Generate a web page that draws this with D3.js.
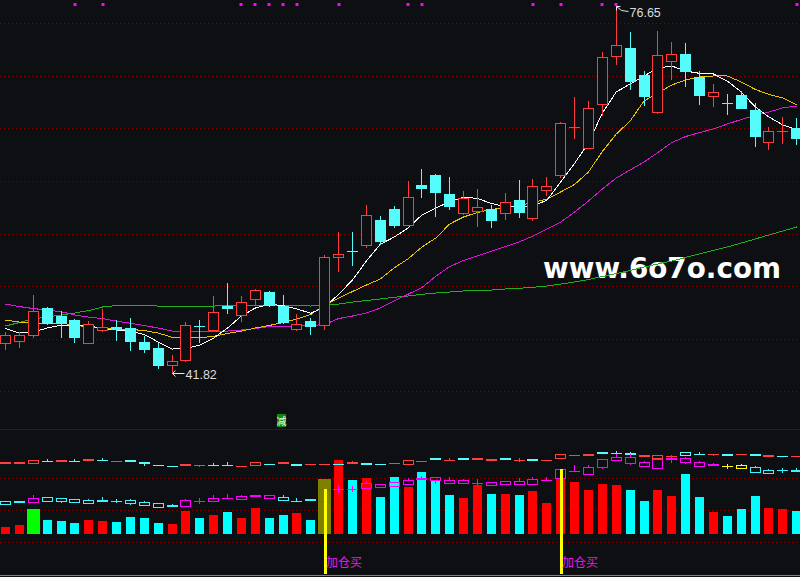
<!DOCTYPE html>
<html><head><meta charset="utf-8">
<script src="https://cdn.jsdelivr.net/npm/d3@7"></script>
<style>html,body{margin:0;padding:0;background:#0e0f13;overflow:hidden}</style>
</head><body><svg id="c" width="800" height="577"></svg>
<script>
// ---------- DATA ----------
const days = d3.range(58);
const open  = [44.62,44.75,45.33,47.92,47.16,46.78,44.62,45.83,46.11,46.02,44.69,44.12,42.50,42.98,46.21,45.83,48.11,47.26,48.78,49.44,48.11,45.90,46.69,46.28,52.77,53.34,53.94,56.29,57.34,55.84,59.65,60.57,58.76,56.96,57.18,57.34,56.99,58.19,56.51,59.17,60.60,65.04,63.17,67.35,71.92,72.65,70.08,66.59,71.44,72.08,69.89,68.11,67.42,68.18,66.75,63.74,64.66,65.04];
const high  = [45.64,45.64,49.16,48.02,47.64,46.85,46.69,47.83,46.78,46.97,45.26,44.59,43.45,46.59,46.78,49.06,50.30,49.06,49.70,49.50,49.16,47.35,46.97,52.93,55.15,55.15,57.72,56.67,57.62,59.97,61.14,60.67,60.38,59.05,59.24,57.72,58.86,60.10,60.19,60.38,65.61,67.99,67.61,72.27,76.65,74.17,70.46,74.27,73.22,73.13,70.46,69.23,68.28,68.56,67.42,65.14,66.09,65.99];
const low   = [44.05,44.24,45.19,46.40,45.16,44.69,44.55,45.78,44.88,43.93,43.74,42.22,41.82,42.90,44.69,45.80,47.45,46.69,48.21,48.10,46.50,45.80,45.42,45.90,51.41,52.01,53.75,54.01,55.63,55.80,58.48,56.67,57.34,56.86,55.72,55.63,56.39,56.58,56.32,58.67,60.41,64.09,63.17,66.28,71.16,68.75,67.23,66.50,69.70,69.04,67.32,67.13,66.37,66.90,63.33,63.07,63.64,63.52];
const close = [45.33,45.33,47.64,46.50,46.50,45.16,46.40,46.11,45.92,44.78,44.02,42.50,42.88,46.31,46.11,47.54,47.92,48.49,49.63,48.21,46.59,46.40,46.21,52.77,53.03,53.25,56.77,54.29,55.82,58.48,59.36,58.95,57.62,58.38,57.53,56.29,58.00,57.05,59.53,59.53,65.52,65.14,66.94,71.79,72.94,69.51,68.09,71.98,72.08,70.46,68.18,68.47,67.33,66.94,64.28,64.76,64.76,64.09];

const ma5  = [45.97,45.54,45.64,46.02,46.28,46.31,46.26,45.92,45.83,45.73,45.40,44.69,44.02,44.07,44.40,45.07,46.02,47.16,47.92,48.26,48.16,47.83,47.42,48.05,49.21,50.59,52.39,53.98,54.67,55.53,56.77,57.43,58.03,58.48,58.34,57.86,57.58,57.50,57.67,58.15,59.91,61.68,63.62,66.47,68.47,69.23,69.99,70.75,70.94,70.46,70.24,70.18,69.51,68.47,67.07,66.09,65.33,64.90];
const ma10 = [46.78,46.59,46.47,46.47,46.47,46.31,46.10,45.97,45.92,45.88,45.78,45.54,45.14,45.07,45.07,45.24,45.50,45.73,46.02,46.26,46.54,46.88,47.32,48.21,48.87,49.49,50.11,50.68,51.73,52.60,53.72,54.58,55.91,56.58,57.01,57.29,57.48,57.67,57.96,58.29,58.96,59.67,60.86,62.81,64.47,65.71,67.61,68.37,69.13,69.61,69.89,69.99,69.99,69.42,68.72,68.23,67.90,67.23];
const ma20 = [48.30,48.06,47.87,47.73,47.57,47.26,47.05,46.92,46.67,46.47,46.25,46.02,45.73,45.73,45.73,45.73,45.73,45.83,45.97,46.16,46.12,46.19,46.26,46.35,46.92,47.16,47.45,47.92,48.59,49.23,49.87,50.94,51.87,52.44,52.87,53.32,53.75,54.20,54.77,55.44,56.10,57.05,58.10,59.24,60.29,61.05,61.81,62.71,63.66,64.23,64.61,64.95,65.42,65.85,66.23,66.56,66.96,67.13];
const ma60 = [46.21,46.54,46.88,47.07,47.26,47.45,47.68,48.02,48.15,48.16,48.13,48.11,48.11,48.11,48.11,48.11,48.13,48.16,48.18,48.18,48.16,48.13,48.11,48.21,48.30,48.49,48.64,48.78,48.94,49.06,49.23,49.35,49.44,49.54,49.59,49.63,49.73,49.80,49.89,50.01,50.20,50.40,50.63,50.92,51.20,51.49,51.82,52.11,52.39,52.73,53.06,53.39,53.72,54.10,54.48,54.87,55.25,55.63];

const priceGrid = [75,70,65,60,55,50,45,40];
const topMarks = [5,7,17,18,19,20,21,24,29,30,38,40,43,44,57];
const reduceMark = 20;
const buySignals = [23,40];
const buyLabel = "加仓买";
const reduceLabel = "减";
const watermark = "www.6o7o.com";

// bottom panel: volume bars
const volume = [7,9,25,14,13,11,14,13,12,17,16,11,10,23,16,19,22,16,26,16,19,21,14,55,74,54,56,37,57,47,62,54,39,36,49,40,40,39,43,31,55,52,44,50,49,44,33,44,38,60,37,22,18,25,38,26,25,23];
const volColor = "rrgcccrrccccrrcrcrrccrcorcrccrcccrrcrcrrrrrrrccrrccrcccrrc";
// upper mini-candle row
const aO = [72,72,71,73.5,74,73.5,75,74.5,73.5,74,72,69.5,68.5,70,69.5,69.5,69.5,68.5,69,70.5,72,70,70.5,70.5,70.5,72,71,70.5,71.5,70,73.5,76,74.5,76,76,75,76,74.5,75,74.5,76,79.5,80,82,81.5,81,79,76,78.5,79,80.5,80.5,80,80.5,80,79,78.5,78.5];
const aC = [70,70,74,73.5,72,73.5,73,74.5,73.5,72,70,69.5,68.5,68,69.5,69.5,69.5,68.5,72,70.5,70,68,70.5,70.5,70.5,70,69,70.5,71.5,74,73.5,74,74.5,74,74,73,74,74.5,73,74.5,80,79.5,78,80,81.5,79,77,79,78.5,82,80.5,80.5,78,80.5,78,77,78.5,78.5];
const aH = [72,72,74,75,74,75,75,76,73.5,74,72,69.5,68.5,70,69.5,71,72,68.5,72,70.5,72,70,70.5,70.5,70.5,73,71,70.5,71.5,74,73.5,76,76,76,76,75,76,76,75,74.5,80,79.5,80,82,83,82,79,79,78.5,82,82,80.5,80,80.5,80,79,78.5,78.5];
const aL = [70,70,71,73.5,72,73.5,73,74.5,73.5,72,69,69.5,68.5,68,68,69.5,69.5,68.5,69,70.5,70,68,70.5,70.5,70.5,70,69,70.5,71.5,70,73.5,74,74.5,74,74,73,74,73,73,74.5,76,79.5,78,80,80,79,77,76,78.5,79,80.5,79,78,80.5,78,77,78.5,78.5];
const aColor = "rrrcrcrcrccccrrccrrcrcrrcrccrrrcrcrrcrcrrrrcccrrrccrcrcrcr";
// lower mini-candle row
const bO = [30,33,32,33,33,32,31,34,33.5,31,29,27,29,28,33.5,33,36.5,35,39,36,34,33.5,35,33,45.5,45.5,46,47,48,50,56,54,51,51,51.5,49,50,50,50,54.5,56,63.5,60,67,74,71,68,66,76,72,68,70,68.5,66,62,61,64.5,64];
const bC = [33,31,36,37,36,35,34,32,33.5,34,32,31,27,34,33.5,36,36.5,38,37,39,37,33.5,33,45,45.5,45.5,51,50,52,54,54,57,54,54,51.5,52,53,53,55,54.5,65,63.5,67,75,77,77,72,75,74,76,72,68,68.5,69,67,64,64.5,62];
const bH = [33,33,39,37,36,35,35,37,35,35,33,31,30,35,36,39,40,39,39,39,39,36,35,45,49,48,53,50,52,56,58,57,57,55,55,52,53,56,57,57,65,69,69,75,80,80,73,75,79,77,73,71,70,70,68,65,66,66];
const bL = [30,31,32,33,32,32,31,32,32,30,29,27,27,28,31,33,36.5,35,37,36,34,33.5,33,33,42,43,46,47,48,50,54,51,51,51,49,49,50,50,50,54.5,56,63.5,60,66,74,70,68,66,72,71,68,68,66,66,62,61,62,62];
const bColor = "ccm" + "cccccccccc" + "mmmmmmm" + "ccc" + "m" + "mmmmmmmmmmmmmmmmmmmmmmmmmmmm" + "yy" + "cccc";

// ---------- DRAW ----------
const W = 800, H = 577, BG = "#0e0f13";
const svg = d3.select("#c");
svg.append("rect").attr("width", W).attr("height", H).attr("fill", BG);

const x = d3.scaleLinear().domain([0, days.length - 1]).range([5.5, 796.7]);
const y = d3.scaleLinear().domain([40, 75]).range([391.3, 23.3]);
const v = d3.scaleLinear().domain([0, 100]).range([534, 434]);
const px = p => Math.round(p);

const GRID = "#800000";
// main grid
svg.append("g").selectAll("line").data(priceGrid).join("line")
  .attr("x1", 0).attr("x2", W)
  .attr("y1", d => px(y(d)) + 0.5).attr("y2", d => px(y(d)) + 0.5)
  .attr("stroke", GRID).attr("stroke-dasharray", "1,3").attr("shape-rendering", "crispEdges");

// panel separator + bottom border
svg.append("line").attr("x1", 0).attr("x2", W).attr("y1", 429.5).attr("y2", 429.5).attr("stroke", "#6e0000");
svg.append("line").attr("x1", 0).attr("x2", W).attr("y1", 575.5).attr("y2", 575.5).attr("stroke", "#22c322");

// sub grid
const subGrid = [56, 24, -8];
svg.append("g").selectAll("line").data(subGrid).join("line")
  .attr("x1", 0).attr("x2", W)
  .attr("y1", d => px(v(d)) + 0.5).attr("y2", d => px(v(d)) + 0.5)
  .attr("stroke", GRID).attr("stroke-dasharray", "1,3").attr("shape-rendering", "crispEdges");

// top markers
svg.append("g").selectAll("rect").data(topMarks).join("rect")
  .attr("x", d => px(x(d)) - 1.5).attr("y", 3).attr("width", 3).attr("height", 3)
  .attr("fill", "#ff00ff");

// watermark
svg.append("text").attr("x", 543).attr("y", 278)
  .attr("font-family", "DejaVu Sans, sans-serif").attr("font-weight", "bold")
  .attr("font-size", 28).attr("fill", "#ffffff")
  .attr("textLength", 238).attr("lengthAdjust", "spacingAndGlyphs")
  .text(watermark);

// MA lines
const maLine = d3.line().x((d, i) => x(i)).y(d => y(d));
const maDefs = [[ma60, "#1fae1f"], [ma20, "#d81ad8"], [ma10, "#e8c400"], [ma5, "#ffffff"]];
maDefs.forEach(([arr, col]) => {
  svg.append("path").attr("d", maLine(arr)).attr("fill", "none")
    .attr("stroke", col).attr("stroke-width", 1).attr("shape-rendering", "crispEdges");
});

// candles
const UP = "#ff3b3b", DN = "#54fcfc";
const cg = svg.append("g").attr("shape-rendering", "crispEdges");
days.forEach(i => {
  const cx = x(i), x0 = px(cx - 5.5);
  const up = close[i] >= open[i];
  const col = up ? UP : DN;
  const yt = px(y(Math.max(open[i], close[i]))), yb = px(y(Math.min(open[i], close[i])));
  cg.append("line").attr("x1", x0 + 5.5).attr("x2", x0 + 5.5)
    .attr("y1", px(y(high[i]))).attr("y2", px(y(low[i])) + 1).attr("stroke", col);
  if (yb - yt <= 1) {
    cg.append("line").attr("x1", x0).attr("x2", x0 + 11)
      .attr("y1", yt + 0.5).attr("y2", yt + 0.5).attr("stroke", col);
  } else if (up) {
    cg.append("rect").attr("x", x0 + 0.5).attr("y", yt + 0.5).attr("width", 10).attr("height", yb - yt)
      .attr("fill", BG).attr("stroke", col);
  } else {
    cg.append("rect").attr("x", x0).attr("y", yt).attr("width", 11).attr("height", yb - yt + 1)
      .attr("fill", col);
  }
});

// high / low annotations
const hiIdx = d3.maxIndex(high), loIdx = d3.minIndex(low);
const hx = px(x(hiIdx)) + 0.5, hy = px(y(high[hiIdx])) + 0.5;
svg.append("path").attr("d", `M${hx},${hy} L${hx + 5},${hy + 4} L${hx + 12},${hy + 5} M${hx},${hy} l0,4 M${hx},${hy} l4,0`)
  .attr("fill", "none").attr("stroke", "#e8e8e8");
svg.append("text").attr("x", hx + 13).attr("y", hy + 10)
  .attr("font-family", "Liberation Sans, Arial, sans-serif").attr("font-size", 12.5).attr("fill", "#dcdcdc")
  .text(high[hiIdx].toFixed(2));
const lx = px(x(loIdx)) + 0.5, ly = px(y(low[loIdx])) + 1.5;
svg.append("path").attr("d", `M${lx},${ly} L${lx + 12},${ly} M${lx},${ly} l3,-3 M${lx},${ly} l3,3`)
  .attr("fill", "none").attr("stroke", "#e8e8e8");
svg.append("text").attr("x", lx + 13).attr("y", ly + 5)
  .attr("font-family", "Liberation Sans, Arial, sans-serif").attr("font-size", 12.5).attr("fill", "#dcdcdc")
  .text(low[loIdx].toFixed(2));

// reduce marker
const rx = px(x(reduceMark)) - 6;
svg.append("rect").attr("x", rx).attr("y", 414).attr("width", 9).attr("height", 13).attr("fill", "#0d8a0d");
svg.append("text").attr("x", rx + 4.5).attr("y", 425).attr("text-anchor", "middle")
  .attr("font-family", "Noto Sans CJK SC, sans-serif").attr("font-size", 10).attr("fill", "#e8ffe8")
  .text(reduceLabel);

// volume bars
const vcol = {r: "#ff0000", c: "#00ffff", g: "#00ff00", o: "#808000"};
svg.append("g").attr("shape-rendering", "crispEdges").selectAll("rect").data(volume).join("rect")
  .attr("x", (d, i) => { const w = "go".includes(volColor[i]) ? 13 : 9; return px(x(i) - w / 2); })
  .attr("width", (d, i) => "go".includes(volColor[i]) ? 13 : 9)
  .attr("y", d => px(v(d))).attr("height", d => px(v(0)) - px(v(d)))
  .attr("fill", (d, i) => vcol[volColor[i]]);

// mini candle rows
function miniRow(O, C, Hh, L, colors, palette) {
  const g = svg.append("g").attr("shape-rendering", "crispEdges");
  days.forEach(i => {
    const col = palette[colors[i]];
    const x0 = px(x(i) - 5.5);
    const yt = px(v(Math.max(O[i], C[i]))), yb = px(v(Math.min(O[i], C[i])));
    const yh = px(v(Hh[i])), yl = px(v(L[i]));
    if (yh < yt) g.append("line").attr("x1", x0 + 5.5).attr("x2", x0 + 5.5).attr("y1", yh).attr("y2", yt).attr("stroke", col);
    if (yl > yb) g.append("line").attr("x1", x0 + 5.5).attr("x2", x0 + 5.5).attr("y1", yb).attr("y2", yl + 1).attr("stroke", col);
    if (O[i] === C[i]) {
      g.append("line").attr("x1", x0).attr("x2", x0 + 11).attr("y1", yt + 0.5).attr("y2", yt + 0.5).attr("stroke", col);
    } else if (C[i] > O[i]) {
      g.append("rect").attr("x", x0 + 0.5).attr("y", yt + 0.5).attr("width", 10).attr("height", yb - yt)
        .attr("fill", "none").attr("stroke", col);
    } else {
      g.append("rect").attr("x", x0).attr("y", yt).attr("width", 11).attr("height", Math.max(1, yb - yt))
        .attr("fill", col);
    }
  });
}
miniRow(aO, aC, aH, aL, aColor, {r: "#ff4040", c: "#54fcfc"});
miniRow(bO, bC, bH, bL, bColor, {c: "#3cf4ff", m: "#ff00ff", y: "#ffff00"});

// buy signals
buySignals.forEach(i => {
  const top = px(v(Math.max(bO[i], bC[i])));
  svg.append("rect").attr("x", px(x(i)) - 1).attr("y", top).attr("width", 3).attr("height", 574 - top)
    .attr("fill", "#ffff00");
  svg.append("text").attr("x", px(x(i)) + 1).attr("y", 567)
    .attr("font-family", "Noto Sans CJK SC, sans-serif").attr("font-size", 12).attr("fill", "#e818e8")
    .text(buyLabel);
});
</script></body></html>
